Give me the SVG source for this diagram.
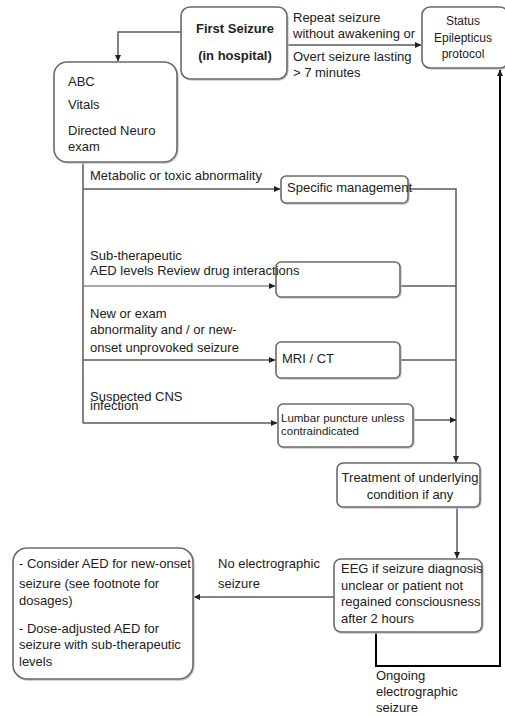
<svg xmlns="http://www.w3.org/2000/svg" width="505" height="716" viewBox="0 0 505 716">
<defs>
<style>
text{font-family:"Liberation Sans",Arial,sans-serif;font-size:13px;fill:#222}
.b{font-weight:bold}
.s12{font-size:12px}
.s11{font-size:11.5px}
.box{fill:#fff;stroke:#6a6a6a;stroke-width:1.6}
.sh{fill:none;stroke:#c8c8c8;stroke-width:1.4}
.ln{fill:none;stroke:#5a5a5a;stroke-width:1.5}
.lt{fill:none;stroke:#8a8a8a;stroke-width:1.3}
.bk{fill:none;stroke:#000;stroke-width:2}
.c{text-anchor:middle}
</style>
<marker id="a" markerWidth="7" markerHeight="7" refX="6" refY="3.5" orient="auto" markerUnits="userSpaceOnUse">
<path d="M0,0.5 L6.5,3.5 L0,6.5 z" fill="#222"/>
</marker>
</defs>
<rect width="505" height="716" fill="#fff"/>
<g id="connectors">
<polyline class="ln" points="181,32 118,32 118,61" marker-end="url(#a)"/>
<line class="ln" x1="287" y1="45" x2="421" y2="45" marker-end="url(#a)"/>
<line class="ln" x1="83" y1="162" x2="83" y2="423"/>
<line class="ln" x1="83" y1="189" x2="280" y2="189" marker-end="url(#a)"/>
<line class="lt" x1="83" y1="286" x2="275" y2="286" marker-end="url(#a)"/>
<line class="ln" x1="83" y1="360" x2="275" y2="360" marker-end="url(#a)"/>
<line class="ln" x1="83" y1="423" x2="277" y2="423" marker-end="url(#a)"/>
<polyline class="ln" points="408,189 456,189 456,462" marker-end="url(#a)"/>
<line class="ln" x1="400" y1="286" x2="456" y2="286"/>
<line class="ln" x1="400" y1="360" x2="456" y2="360"/>
<line class="ln" x1="413" y1="420" x2="456" y2="420" marker-end="url(#a)"/>
<line class="ln" x1="457" y1="507" x2="457" y2="558" marker-end="url(#a)"/>
<line class="ln" x1="334" y1="597" x2="194" y2="597" marker-end="url(#a)"/>
<polyline class="bk" points="376,632 376,666 500,666 500,70" marker-end="url(#a)"/>
</g>
<g id="first-seizure">
<rect class="sh" x="182" y="8" width="106" height="72" rx="9"/>
<rect class="box" x="181" y="7" width="106" height="72" rx="9"/>
<text class="b c" x="235" y="33">First Seizure</text>
<text class="b c" x="235" y="60">(in hospital)</text>
</g>
<g id="status-epilepticus">
<rect class="sh" x="423" y="8" width="86" height="61" rx="8"/>
<rect class="box" x="422" y="7" width="86" height="61" rx="8"/>
<text class="s12 c" x="463" y="25">Status</text>
<text class="s12 c" x="463" y="41.5">Epilepticus</text>
<text class="s12 c" x="463" y="58">protocol</text>
</g>
<g id="abc">
<rect class="sh" x="55" y="63" width="123" height="100" rx="13"/>
<rect class="box" x="54" y="62" width="123" height="100" rx="13"/>
<text x="68" y="85.5">ABC</text>
<text x="68" y="108.5">Vitals</text>
<text x="68" y="134.5">Directed Neuro</text>
<text x="68" y="151">exam</text>
</g>
<g id="specific-management">
<rect class="sh" x="282" y="177" width="127" height="27" rx="5"/>
<rect class="box" x="281" y="176" width="127" height="27" rx="5"/>
<text x="287" y="191.5">Specific management</text>
</g>
<g id="aed-box">
<rect class="sh" x="277" y="263" width="124" height="35" rx="5"/>
<rect class="box" x="276" y="262" width="124" height="35" rx="5"/>
</g>
<g id="mri-ct">
<rect class="sh" x="277" y="343" width="124" height="36" rx="5"/>
<rect class="box" x="276" y="342" width="124" height="36" rx="5"/>
<text x="282" y="362.5">MRI / CT</text>
</g>
<g id="lumbar-puncture">
<rect class="sh" x="279" y="405" width="135" height="43" rx="5"/>
<rect class="box" x="278" y="404" width="135" height="43" rx="5"/>
<text class="s11" x="281" y="422">Lumbar puncture unless</text>
<text class="s11" x="281" y="435">contraindicated</text>
</g>
<g id="treatment">
<rect class="sh" x="338" y="464" width="143" height="44" rx="6"/>
<rect class="box" x="337" y="463" width="143" height="44" rx="6"/>
<text class="c" x="410" y="481.5">Treatment of underlying</text>
<text class="c" x="410" y="498.5">condition if any</text>
</g>
<g id="eeg">
<rect class="sh" x="335" y="560" width="148" height="73" rx="7"/>
<rect class="box" x="334" y="559" width="148" height="73" rx="7"/>
<text x="341" y="572.5">EEG if seizure diagnosis</text>
<text x="341" y="589.5">unclear or patient not</text>
<text x="341" y="606">regained consciousness</text>
<text x="341" y="622.5">after 2 hours</text>
</g>
<g id="consider-aed">
<rect class="sh" x="14" y="549" width="180" height="131" rx="14"/>
<rect class="box" x="13" y="548" width="180" height="131" rx="14"/>
<text x="19" y="567.5">- Consider AED for new-onset</text>
<text x="19" y="588">seizure (see footnote for</text>
<text x="19" y="604.5">dosages)</text>
<text x="19" y="632.5">- Dose-adjusted AED for</text>
<text x="19" y="649">seizure with sub-therapeutic</text>
<text x="19" y="666">levels</text>
</g>
<g id="labels">
<text x="293" y="21.5">Repeat seizure</text>
<text x="293" y="37.5">without awakening or</text>
<text x="293" y="60.5">Overt seizure lasting</text>
<text x="293" y="77">&gt; 7 minutes</text>
<text x="90" y="179.5">Metabolic or toxic abnormality</text>
<text x="90" y="259.5">Sub-therapeutic</text>
<text x="90" y="274.5">AED levels Review drug interactions</text>
<text x="90" y="317.5">New or exam</text>
<text x="90" y="333.5">abnormality and / or new-</text>
<text x="90" y="351.5">onset unprovoked seizure</text>
<text x="90" y="400.5">Suspected CNS</text>
<text x="90" y="409.5">infection</text>
<text x="218" y="567.5">No electrographic</text>
<text x="218" y="588">seizure</text>
<text x="376" y="679.5">Ongoing</text>
<text x="376" y="695.5">electrographic</text>
<text x="376" y="712">seizure</text>
</g>
</svg>
